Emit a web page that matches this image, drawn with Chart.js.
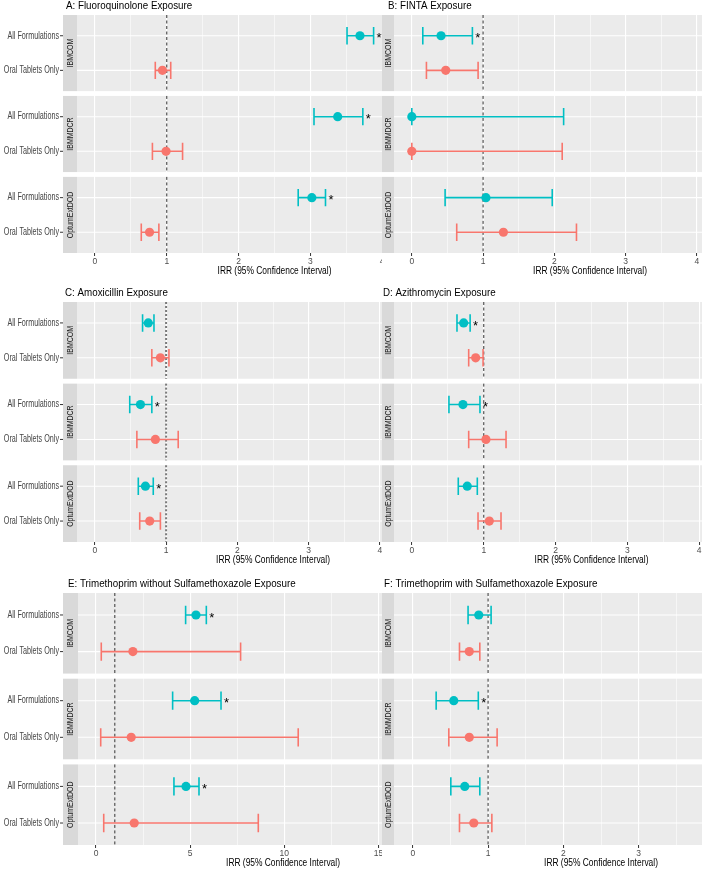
<!DOCTYPE html>
<html>
<head>
<meta charset="utf-8">
<script src="https://cdn.jsdelivr.net/npm/chart.js@4.4.1/dist/chart.umd.min.js"></script>
<style>
  html, body { margin: 0; padding: 0; background: #fff; }
  #wrap { position: relative; width: 702px; height: 870px; overflow: hidden; }
  .left { position: absolute; left: 0; }
  .right { position: absolute; left: 382px; width: 320px; overflow: hidden; }
  canvas { display: block; }
</style>
</head>
<body>
<div id="wrap"></div>
<script>
// ---- data ----
const sources = ['IBMCOM', 'IBMMDCR', 'OptumExtDOD'];
const formulations = ['All Formulations', 'Oral Tablets Only'];
const panelTitles = [
  'A: Fluoroquinolone Exposure',
  'B: FINTA Exposure',
  'C: Amoxicillin Exposure',
  'D: Azithromycin Exposure',
  'E: Trimethoprim without Sulfamethoxazole Exposure',
  'F: Trimethoprim with Sulfamethoxazole Exposure'
];
const xTitle = 'IRR (95% Confidence Interval)';
const xTicksNarrow = [0, 1, 2, 3, 4, 5];
const xTicksWide = [0, 5, 10, 15, 20];

// order: IBMCOM all, IBMCOM oral, IBMMDCR all, IBMMDCR oral, Optum all, Optum oral
const fluoroEst  = [3.69, 0.94, 3.38, 0.99, 3.02, 0.76];
const fluoroLow  = [3.51, 0.84, 3.05, 0.80, 2.83, 0.645];
const fluoroHigh = [3.88, 1.055, 3.73, 1.22, 3.21, 0.89];
const fluoroSig  = [1, 0, 1, 0, 1, 0];

const fintaEst  = [0.41, 0.476, 0.0, 0.0, 1.04, 1.285];
const fintaLow  = [0.154, 0.205, 0.0, 0.0, 0.467, 0.63];
const fintaHigh = [0.85, 0.93, 2.13, 2.11, 1.97, 2.31];
const fintaSig  = [1, 0, 0, 0, 0, 0];

const amoxEst  = [0.75, 0.92, 0.64, 0.85, 0.71, 0.77];
const amoxLow  = [0.67, 0.80, 0.49, 0.59, 0.61, 0.63];
const amoxHigh = [0.83, 1.04, 0.80, 1.17, 0.82, 0.92];
const amoxSig  = [0, 0, 1, 0, 1, 0];

const azithEst  = [0.72, 0.887, 0.71, 1.03, 0.77, 1.077];
const azithLow  = [0.627, 0.79, 0.515, 0.79, 0.645, 0.92];
const azithHigh = [0.81, 0.99, 0.947, 1.31, 0.91, 1.24];
const azithSig  = [1, 0, 1, 0, 0, 0];

const tmpEst  = [5.31, 1.96, 5.24, 1.87, 4.78, 2.03];
const tmpLow  = [4.76, 0.28, 4.07, 0.25, 4.14, 0.41];
const tmpHigh = [5.86, 7.68, 6.64, 10.74, 5.47, 8.62];
const tmpSig  = [1, 0, 1, 0, 1, 0];

const tmpSmxEst  = [0.876, 0.75, 0.544, 0.75, 0.69, 0.81];
const tmpSmxLow  = [0.734, 0.62, 0.31, 0.478, 0.505, 0.62];
const tmpSmxHigh = [1.04, 0.89, 0.87, 1.12, 0.89, 1.05];
const tmpSmxSig  = [0, 0, 1, 0, 0, 0];

const refValue = 1;

// ---- styling ----
const seriesColors = ['#00BFC4', '#F8766D'];
const FONT = '"Liberation Sans", Arial, sans-serif';
const SPAN = 2.2, GAP = 0.14, PAD = 0.6;
const Y_MAX = 3 * SPAN + 2 * GAP;
const rowY = (s, k) => s * (SPAN + GAP) + PAD + k;

const panels = [
  { title: panelTitles[0], est: fluoroEst, low: fluoroLow, high: fluoroHigh, sig: fluoroSig, major: xTicksNarrow,
    side: 'left', top: 0, h: 280, aTop: 15, aBot: 253, aLeft: 77, aW: 395, xmin: -0.25, xmax: 5.25, strip: 14, tx: 66, ty: 6 },
  { title: panelTitles[1], est: fintaEst, low: fintaLow, high: fintaHigh, sig: fintaSig, major: xTicksNarrow,
    side: 'right', top: 0, h: 280, aTop: 15, aBot: 253, aLeft: 12, aW: 392, xmin: -0.25, xmax: 5.25, strip: 12, tx: 6, ty: 6 },
  { title: panelTitles[2], est: amoxEst, low: amoxLow, high: amoxHigh, sig: amoxSig, major: xTicksNarrow,
    side: 'left', top: 280, h: 290, aTop: 22, aBot: 262, aLeft: 77, aW: 392, xmin: -0.25, xmax: 5.25, strip: 14, tx: 65, ty: 13, dotted: true },
  { title: panelTitles[3], est: azithEst, low: azithLow, high: azithHigh, sig: azithSig, major: xTicksNarrow,
    side: 'right', top: 280, h: 290, aTop: 22, aBot: 262, aLeft: 12, aW: 395, xmin: -0.25, xmax: 5.25, strip: 12, tx: 1, ty: 13 },
  { title: panelTitles[4], est: tmpEst, low: tmpLow, high: tmpHigh, sig: tmpSig, major: xTicksWide,
    side: 'left', top: 570, h: 300, aTop: 23, aBot: 275, aLeft: 78, aW: 410, xmin: -0.956, xmax: 20.82, strip: 15, tx: 68, ty: 14 },
  { title: panelTitles[5], est: tmpSmxEst, low: tmpSmxLow, high: tmpSmxHigh, sig: tmpSmxSig, major: xTicksNarrow,
    side: 'right', top: 570, h: 300, aTop: 23, aBot: 275, aLeft: 12, aW: 414, xmin: -0.25, xmax: 5.25, strip: 12, tx: 2, ty: 14 }
];

function condensedText(ctx, text, x, y, sx, align) {
  ctx.save();
  ctx.translate(x, y);
  ctx.scale(sx, 1);
  ctx.textAlign = align;
  ctx.fillText(text, 0, 0);
  ctx.restore();
}

const facetPlugin = {
  id: 'facets',
  beforeDraw(chart, args, p) {
    const { ctx, chartArea: a, scales: { y } } = chart;
    ctx.save();
    ctx.fillStyle = '#fff';
    ctx.fillRect(0, 0, chart.width, chart.height);
    sources.forEach((src, s) => {
      const y0 = y.getPixelForValue(s * (SPAN + GAP));
      const y1 = y.getPixelForValue(s * (SPAN + GAP) + SPAN);
      ctx.fillStyle = '#EBEBEB';
      ctx.fillRect(a.left, y0, a.right - a.left, y1 - y0);
      ctx.fillStyle = '#D9D9D9';
      ctx.fillRect(a.left - p.strip, y0, p.strip, y1 - y0);
      ctx.save();
      ctx.translate(a.left - p.strip / 2, (y0 + y1) / 2);
      ctx.rotate(-Math.PI / 2);
      ctx.scale(0.82, 1);
      ctx.fillStyle = '#1A1A1A';
      ctx.font = '8.5px ' + FONT;
      ctx.textAlign = 'center';
      ctx.textBaseline = 'middle';
      ctx.fillText(src, 0, 0.5);
      ctx.restore();
      if (p.side === 'left') {
        const xr = a.left - p.strip;
        ctx.font = '10px ' + FONT;
        ctx.textBaseline = 'middle';
        formulations.forEach((f, k) => {
          const yy = y.getPixelForValue(rowY(s, k));
          ctx.fillStyle = '#444';
          condensedText(ctx, f, xr - 4, yy, 0.72, 'right');
          ctx.strokeStyle = '#333';
          ctx.lineWidth = 1;
          ctx.beginPath();
          ctx.moveTo(xr - 3, yy);
          ctx.lineTo(xr, yy);
          ctx.stroke();
        });
      }
    });
    // panel title
    ctx.fillStyle = '#000';
    ctx.font = '11px ' + FONT;
    ctx.textBaseline = 'middle';
    condensedText(ctx, p.title, p.tx, p.ty, 0.89, 'left');
    // x axis title
    ctx.font = '10.5px ' + FONT;
    condensedText(ctx, xTitle, (a.left + a.right) / 2, a.bottom + 18.5, 0.8, 'center');
    ctx.restore();
  },
  beforeDatasetsDraw(chart, args, p) {
    const { ctx, chartArea: a, scales: { x, y } } = chart;
    ctx.save();
    // horizontal grid
    ctx.strokeStyle = '#fff';
    ctx.lineWidth = 1.1;
    sources.forEach((src, s) => {
      formulations.forEach((f, k) => {
        const yy = y.getPixelForValue(rowY(s, k));
        ctx.beginPath();
        ctx.moveTo(a.left, yy);
        ctx.lineTo(a.right, yy);
        ctx.stroke();
      });
    });
    // reference line
    const xr = x.getPixelForValue(refValue);
    if (p.dotted) {
      ctx.strokeStyle = '#7a7a7a'; ctx.lineWidth = 2; ctx.setLineDash([2, 2]);
    } else {
      ctx.strokeStyle = '#333'; ctx.lineWidth = 1; ctx.setLineDash([3, 2.5]);
    }
    sources.forEach((src, s) => {
      ctx.beginPath();
      ctx.moveTo(xr, y.getPixelForValue(s * (SPAN + GAP)));
      ctx.lineTo(xr, y.getPixelForValue(s * (SPAN + GAP) + SPAN));
      ctx.stroke();
    });
    ctx.setLineDash([]);
    // error bars
    ctx.lineWidth = 1.6;
    sources.forEach((src, s) => {
      formulations.forEach((f, k) => {
        const i = s * 2 + k;
        const yy = y.getPixelForValue(rowY(s, k));
        const yt = y.getPixelForValue(rowY(s, k) - 0.25);
        const yb = y.getPixelForValue(rowY(s, k) + 0.25);
        const xl = x.getPixelForValue(p.low[i]);
        const xh = x.getPixelForValue(p.high[i]);
        ctx.strokeStyle = seriesColors[k];
        ctx.beginPath();
        ctx.moveTo(xl, yy); ctx.lineTo(xh, yy);
        ctx.moveTo(xl, yt); ctx.lineTo(xl, yb);
        ctx.moveTo(xh, yt); ctx.lineTo(xh, yb);
        ctx.stroke();
      });
    });
    ctx.restore();
  },
  afterDatasetsDraw(chart, args, p) {
    const { ctx, scales: { x, y } } = chart;
    ctx.save();
    ctx.fillStyle = '#000';
    ctx.font = '13px ' + FONT;
    ctx.textAlign = 'center';
    ctx.textBaseline = 'middle';
    p.sig.forEach((v, i) => {
      if (!v) return;
      const s = Math.floor(i / 2), k = i % 2;
      ctx.fillText('*', x.getPixelForValue(p.high[i]) + 5.5, y.getPixelForValue(rowY(s, k)) + 3);
    });
    ctx.restore();
  }
};

const wrap = document.getElementById('wrap');

panels.forEach(p => {
  const minor = [];
  for (let i = 0; i < p.major.length - 1; i++) minor.push((p.major[i] + p.major[i + 1]) / 2);
  const allTicks = p.major.concat(minor).sort((a, b) => a - b);
  const isMajor = v => p.major.includes(v);

  const cw = p.aLeft + p.aW + 12;
  const box = document.createElement('div');
  box.className = p.side;
  box.style.top = p.top + 'px';
  box.style.height = p.h + 'px';
  const canvas = document.createElement('canvas');
  canvas.width = cw; canvas.height = p.h;
  canvas.style.width = cw + 'px'; canvas.style.height = p.h + 'px';
  box.appendChild(canvas);
  wrap.appendChild(box);

  new Chart(canvas, {
    type: 'scatter',
    data: {
      datasets: formulations.map((f, k) => ({
        label: f,
        data: sources.map((src, s) => ({ x: p.est[s * 2 + k], y: rowY(s, k) })),
        backgroundColor: seriesColors[k],
        borderWidth: 0,
        pointRadius: 4.6,
        pointHoverRadius: 4.6
      }))
    },
    options: {
      responsive: false,
      animation: false,
      devicePixelRatio: 1,
      events: [],
      layout: { padding: { left: p.aLeft, right: cw - p.aLeft - p.aW, top: p.aTop, bottom: p.h - p.aBot - 20 } },
      plugins: { legend: { display: false }, tooltip: { enabled: false }, facets: p },
      scales: {
        x: {
          type: 'linear',
          min: p.xmin,
          max: p.xmax,
          afterBuildTicks: sc => { sc.ticks = allTicks.map(v => ({ value: v })); },
          afterFit: sc => { sc.height = 20; },
          border: { display: false },
          grid: {
            color: '#fff',
            lineWidth: c => (c.tick && isMajor(c.tick.value)) ? 1.1 : 0.55,
            tickLength: 3,
            tickWidth: 1,
            tickColor: c => (c.tick && isMajor(c.tick.value)) ? '#333' : 'rgba(0,0,0,0)'
          },
          ticks: {
            color: '#4D4D4D',
            font: { family: FONT, size: 8.5 },
            padding: 1,
            maxRotation: 0,
            autoSkip: false,
            callback: v => isMajor(v) ? String(v) : ''
          }
        },
        y: { type: 'linear', display: false, reverse: true, min: 0, max: Y_MAX }
      }
    },
    plugins: [facetPlugin]
  });
});
</script>
</body>
</html>
